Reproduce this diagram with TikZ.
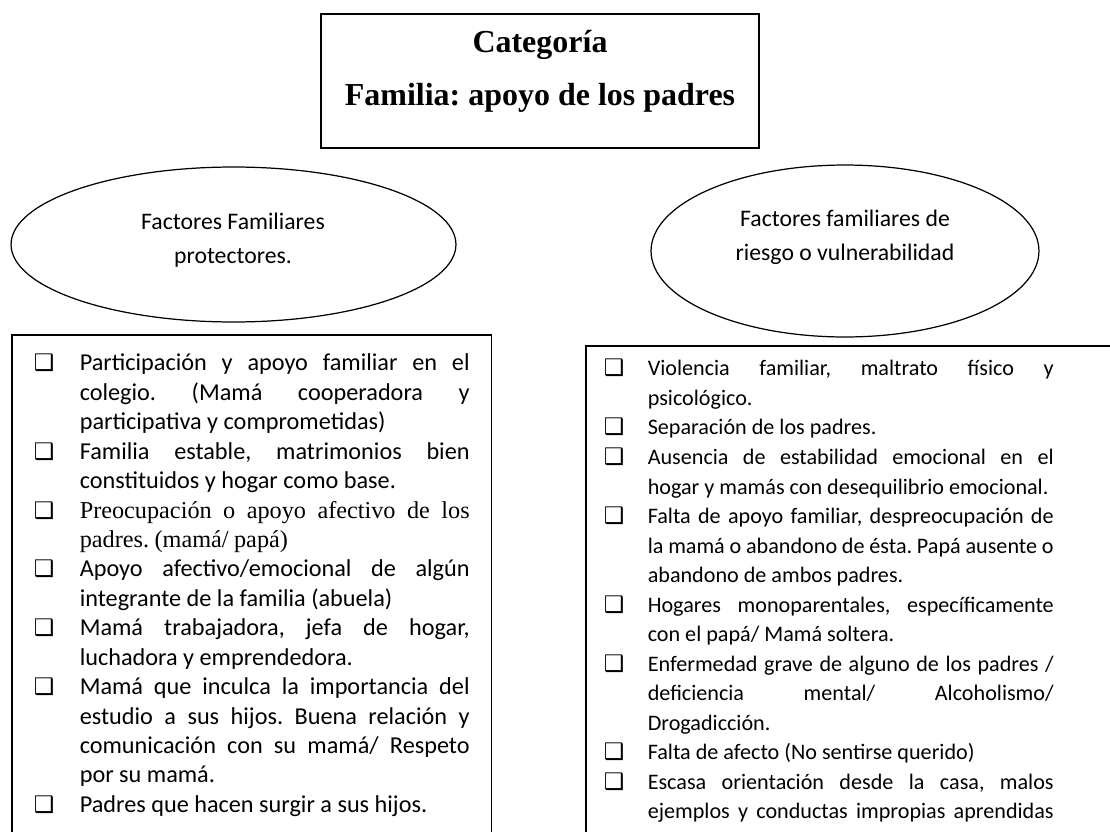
\documentclass[tikz,border=0pt]{standalone}
\usepackage{fontspec}
\setmainfont{Carlito}
\newfontfamily\timesfont{Liberation Serif}
\newfontfamily\symfont{DejaVu Sans}
\usetikzlibrary{shapes.geometric}
\frenchspacing

\newcommand{\chkbox}{\strut{\symfont\fontsize{13}{16}\selectfont ❑}}
\newenvironment{chklist}[2]{%
  \begin{list}{\chkbox}{\setlength\leftmargin{#1}\setlength\labelwidth{#1}%
    \setlength\rightmargin{#2}\setlength\labelsep{0pt}%
    \setlength\itemsep{0pt}\setlength\parsep{0pt}%
    \setlength\topsep{0pt}\setlength\partopsep{0pt}%
    \def\makelabel##1{##1\hfil}}\sloppy\hyphenpenalty=10000
    \spaceskip=0.226em plus 1em minus 0.08em }
  {\end{list}\par\nointerlineskip\noindent\rule{\hsize}{0pt}}

\begin{document}
\begin{tikzpicture}[x=0.02cm,y=-0.02cm,
   titlebox/.style={draw,line width=0.9pt,minimum width=8.76cm,minimum height=2.68cm,inner sep=0pt},
   titletext/.style={align=center,font=\timesfont\bfseries\fontsize{18.2}{30}\selectfont},
   factor/.style={ellipse,draw,line width=0.7pt,inner sep=0pt},
   factortext/.style={align=center,font=\fontsize{13.5}{19.6}\selectfont},
   listbox/.style={draw,line width=0.9pt,anchor=north west}]
  \useasboundingbox (0,0) rectangle (1110,832);
  \clip (0,0) rectangle (1110,832);
  % categoria
  \node[titlebox] (cat) at (540,81) {};
  \node[titletext] (catlbl) at (540,71) {Categoría\\Familia: apoyo de los padres};
  % factores
  \node[factor,minimum width=8.9cm,minimum height=3.1cm] (prot) at (233.5,244.5) {};
  \node[factortext] (protlbl) at (233,240) {Factores Familiares\\protectores.};
  \node[factor,minimum width=7.76cm,minimum height=3.44cm] (risk) at (845,251) {};
  \node[factortext] (risklbl) at (845,237.5) {Factores familiares de\\riesgo o vulnerabilidad};
  % listas
  \node[listbox,inner xsep=0.44cm,inner ysep=0.31cm,font=\fontsize{13.8}{16.75}\selectfont] (protlist) at (11,334) {%
    \begin{minipage}[t][12cm][t]{8.72cm}
    \begin{chklist}{0.92cm}{0pt}
      \item Participación y apoyo familiar en el\linebreak colegio. (Mamá cooperadora y\linebreak participativa y comprometidas)
      \item Familia estable, matrimonios bien\linebreak constituidos y hogar como base.
      \item {\timesfont Preocupación o apoyo afectivo de los\linebreak padres. (mamá/ papá)}
      \item Apoyo afectivo/emocional de algún\linebreak integrante de la familia (abuela)
      \item Mamá trabajadora, jefa de hogar,\linebreak luchadora y emprendedora.
      \item Mamá que inculca la importancia del\linebreak estudio a sus hijos. Buena relación y\linebreak comunicación con su mamá/ Respeto\linebreak por su mamá.
      \item Padres que hacen surgir a sus hijos.
    \end{chklist}
    \end{minipage}};
  \node[listbox,inner xsep=0.36cm,inner ysep=0.19cm,font=\fontsize{12.6}{16.8}\selectfont] (risklist) at (585,345) {%
    \begin{minipage}[t][12cm][t]{10.18cm}
    \begin{chklist}{0.88cm}{1.18cm}
      \item Violencia familiar, maltrato físico y\linebreak psicológico.
      \item Separación de los padres.
      \item Ausencia de estabilidad emocional en el\linebreak hogar y mamás con desequilibrio emocional.
      \item Falta de apoyo familiar, despreocupación de\linebreak la mamá o abandono de ésta. Papá ausente o\linebreak abandono de ambos padres.
      \item Hogares monoparentales, específicamente\linebreak con el papá/ Mamá soltera.
      \item Enfermedad grave de alguno de los padres /\linebreak deficiencia mental/ Alcoholismo/\linebreak Drogadicción.
      \item Falta de afecto (No sentirse querido)
      \item Escasa orientación desde la casa, malos\linebreak ejemplos y conductas impropias aprendidas\linebreak\mbox{}
    \end{chklist}
    \end{minipage}};
\end{tikzpicture}
\end{document}
